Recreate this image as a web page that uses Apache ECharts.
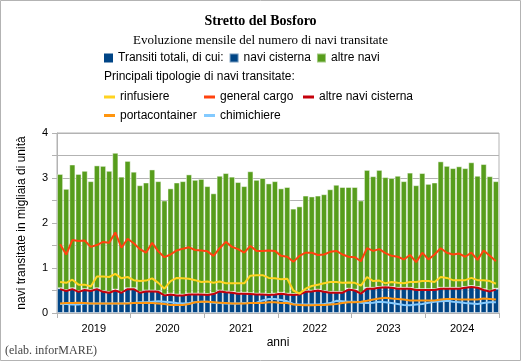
<!DOCTYPE html>
<html>
<head>
<meta charset="utf-8">
<script src="https://cdn.jsdelivr.net/npm/echarts@6/dist/echarts.min.js"></script>
<style>
html,body{margin:0;padding:0;background:#fff;}
#c{width:521px;height:361px;}
</style>
</head>
<body>
<div id="c"></div>
<script>
const years = ['2019','2020','2021','2022','2023','2024'];
const monthNames = ['01','02','03','04','05','06','07','08','09','10','11','12'];
const categories = [];
years.forEach(y => monthNames.forEach(m => categories.push(y + '-' + m)));

// totals (bar tops), thousands of ships
const totals = [
  3.09, 2.76, 3.30, 3.09, 3.16, 2.93, 3.28, 3.27, 3.16, 3.56, 3.03, 3.38,
  3.14, 2.84, 2.90, 3.19, 2.93, 2.50, 2.77, 2.90, 2.93, 3.08, 2.96, 2.98,
  2.82, 2.66, 3.05, 3.11, 3.03, 2.91, 2.82, 3.15, 2.96, 3.00, 2.88, 2.93,
  2.77, 2.80, 2.32, 2.37, 2.61, 2.59, 2.61, 2.64, 2.75, 2.85, 2.80, 2.80,
  2.80, 2.50, 3.18, 3.04, 3.18, 3.02, 3.00, 3.05, 2.93, 3.12, 2.84, 3.11,
  2.87, 2.90, 3.37, 3.27, 3.22, 3.26, 3.22, 3.35, 3.05, 3.31, 3.04, 2.93
];
const naviCisterna = [
  0.55, 0.51, 0.55, 0.49, 0.53, 0.51, 0.55, 0.49, 0.47, 0.52, 0.47, 0.55,
  0.55, 0.47, 0.50, 0.50, 0.49, 0.41, 0.43, 0.41, 0.41, 0.43, 0.43, 0.43,
  0.42, 0.44, 0.50, 0.48, 0.47, 0.45, 0.45, 0.44, 0.43, 0.43, 0.42, 0.43,
  0.45, 0.43, 0.42, 0.43, 0.49, 0.50, 0.52, 0.49, 0.47, 0.47, 0.47, 0.54,
  0.52, 0.45, 0.56, 0.56, 0.58, 0.59, 0.58, 0.56, 0.56, 0.56, 0.53, 0.53,
  0.53, 0.53, 0.56, 0.56, 0.56, 0.56, 0.58, 0.60, 0.58, 0.53, 0.50, 0.54
];
const altreNavi = totals.map((t, i) => +(t - naviCisterna[i]).toFixed(2));

const rinfusiere = [
  0.69, 0.67, 0.74, 0.63, 0.63, 0.59, 0.81, 0.81, 0.80, 0.87, 0.77, 0.80,
  0.73, 0.71, 0.72, 0.77, 0.67, 0.54, 0.71, 0.78, 0.77, 0.76, 0.73, 0.69,
  0.70, 0.67, 0.70, 0.66, 0.66, 0.66, 0.66, 0.83, 0.84, 0.84, 0.78, 0.77,
  0.75, 0.76, 0.50, 0.43, 0.54, 0.60, 0.63, 0.66, 0.69, 0.69, 0.67, 0.68,
  0.67, 0.61, 0.80, 0.71, 0.72, 0.66, 0.69, 0.67, 0.66, 0.69, 0.69, 0.71,
  0.71, 0.69, 0.80, 0.78, 0.73, 0.73, 0.73, 0.78, 0.73, 0.73, 0.71, 0.65
];
const generalCargo = [
  1.53, 1.30, 1.62, 1.60, 1.61, 1.47, 1.51, 1.58, 1.56, 1.79, 1.45, 1.65,
  1.55, 1.42, 1.34, 1.56, 1.37, 1.24, 1.30, 1.39, 1.43, 1.46, 1.40, 1.39,
  1.37, 1.27, 1.44, 1.58, 1.47, 1.42, 1.34, 1.49, 1.38, 1.38, 1.39, 1.38,
  1.27, 1.25, 1.14, 1.27, 1.34, 1.34, 1.29, 1.30, 1.36, 1.38, 1.30, 1.25,
  1.24, 1.15, 1.44, 1.38, 1.42, 1.33, 1.27, 1.25, 1.19, 1.29, 1.13, 1.34,
  1.19, 1.30, 1.44, 1.34, 1.30, 1.32, 1.25, 1.34, 1.18, 1.39, 1.27, 1.15
];
const altreNaviCisterna = [
  0.53, 0.49, 0.53, 0.47, 0.51, 0.49, 0.53, 0.47, 0.45, 0.50, 0.45, 0.53,
  0.53, 0.45, 0.48, 0.48, 0.47, 0.39, 0.41, 0.39, 0.39, 0.41, 0.41, 0.41,
  0.40, 0.42, 0.48, 0.46, 0.45, 0.43, 0.43, 0.42, 0.41, 0.41, 0.40, 0.41,
  0.43, 0.41, 0.40, 0.41, 0.47, 0.48, 0.50, 0.47, 0.45, 0.45, 0.45, 0.52,
  0.50, 0.43, 0.54, 0.54, 0.56, 0.57, 0.56, 0.54, 0.54, 0.54, 0.51, 0.51,
  0.51, 0.51, 0.54, 0.54, 0.54, 0.54, 0.56, 0.58, 0.56, 0.51, 0.48, 0.52
];
const portacontainer = [
  0.21, 0.22, 0.22, 0.23, 0.22, 0.21, 0.21, 0.21, 0.21, 0.21, 0.21, 0.21,
  0.22, 0.22, 0.23, 0.22, 0.21, 0.20, 0.18, 0.18, 0.18, 0.20, 0.24, 0.25,
  0.25, 0.24, 0.23, 0.22, 0.21, 0.21, 0.21, 0.22, 0.22, 0.22, 0.24, 0.24,
  0.22, 0.22, 0.19, 0.18, 0.17, 0.17, 0.18, 0.18, 0.19, 0.20, 0.22, 0.24,
  0.24, 0.25, 0.27, 0.30, 0.32, 0.34, 0.32, 0.31, 0.30, 0.28, 0.28, 0.28,
  0.28, 0.28, 0.30, 0.31, 0.31, 0.30, 0.30, 0.30, 0.30, 0.32, 0.31, 0.30
];
const chimichiere = [
  0.20, 0.20, 0.19, 0.19, 0.21, 0.21, 0.21, 0.21, 0.21, 0.21, 0.21, 0.22,
  0.22, 0.24, 0.24, 0.25, 0.26, 0.25, 0.24, 0.22, 0.21, 0.22, 0.24, 0.25,
  0.25, 0.23, 0.22, 0.21, 0.21, 0.21, 0.22, 0.22, 0.23, 0.28, 0.31, 0.31,
  0.29, 0.26, 0.20, 0.19, 0.19, 0.19, 0.19, 0.20, 0.22, 0.27, 0.26, 0.25,
  0.25, 0.23, 0.22, 0.23, 0.25, 0.24, 0.22, 0.20, 0.18, 0.17, 0.19, 0.20,
  0.23, 0.25, 0.26, 0.27, 0.25, 0.24, 0.22, 0.21, 0.20, 0.22, 0.24, 0.24
];

const SANS = 'Liberation Sans, Arial, sans-serif';
const SERIF = 'Liberation Serif, Times New Roman, serif';
const C = {
  blue: '#004586', green: '#579d1c', yellow: '#ffd320', gc: '#ff420e',
  red: '#c5000b', orange: '#ff950e', light: '#83caff'
};

const chart = echarts.init(document.getElementById('c'), null, {renderer: 'canvas'});

function lineSeries(name, data, color, z) {
  return {
    name, type: 'line', data, xAxisIndex: 0, yAxisIndex: 0,
    symbol: 'none', smooth: false, z,
    lineStyle: {color, width: 2},
    itemStyle: {color}
  };
}

const legendText = {fontFamily: SANS, fontSize: 12, color: '#000', lineHeight: 14};

chart.setOption({
  animation: false,
  backgroundColor: '#fff',
  title: [
    {text: 'Stretto del Bosforo', left: 'center', top: 9,
     textStyle: {fontFamily: SERIF, fontSize: 14, fontWeight: 'bold', color: '#000'}},
    {text: 'Evoluzione mensile del numero di navi transitate', left: 'center', top: 29,
     textStyle: {fontFamily: SERIF, fontSize: 13, fontWeight: 'normal', color: '#000'}}
  ],
  legend: [
    {data: ['Transiti totali, di cui:', 'navi cisterna', 'altre navi'],
     left: 104, top: 51, orient: 'horizontal', itemWidth: 9, itemHeight: 9, itemGap: 5,
     icon: 'rect', selectedMode: false, padding: 0, textStyle: legendText},
    {data: ['rinfusiere', 'portacontainer'], left: 104, top: 90, orient: 'vertical',
     itemWidth: 11, itemHeight: 3, itemGap: 4.5, icon: 'rect', selectedMode: false, padding: 0,
     textStyle: legendText},
    {data: ['general cargo', 'chimichiere'], left: 204, top: 90, orient: 'vertical',
     itemWidth: 11, itemHeight: 3, itemGap: 4.5, icon: 'rect', selectedMode: false, padding: 0,
     textStyle: legendText},
    {data: ['altre navi cisterna'], left: 303, top: 90, orient: 'vertical',
     itemWidth: 11, itemHeight: 3, itemGap: 4.5, icon: 'rect', selectedMode: false, padding: 0,
     textStyle: legendText}
  ],
  graphic: [
    {type: 'rect', shape: {x: 0.5, y: 0.5, width: 520, height: 360},
     style: {fill: 'none', stroke: '#b3b3b3', lineWidth: 1}, silent: true},
    {type: 'text', left: 104, top: 71,
     style: {text: 'Principali tipologie di navi transitate:', font: '12px ' + SANS, fill: '#000'}},
    {type: 'text', left: 5, top: 345,
     style: {text: '(elab. inforMARE)', font: '12px ' + SERIF, fill: '#444'}}
  ],
  grid: {left: 57, right: 22, top: 133, bottom: 48, show: true, borderColor: '#b3b3b3', borderWidth: 1},
  xAxis: [
    {type: 'category', data: categories, gridIndex: 0, position: 'bottom',
     axisLabel: {show: false}, axisTick: {show: false},
     axisLine: {show: true, lineStyle: {color: '#b3b3b3'}}, splitLine: {show: false},
     name: 'anni', nameLocation: 'middle', nameGap: 24,
     nameTextStyle: {fontFamily: SANS, fontSize: 12, color: '#000'}},
    {type: 'category', data: years, gridIndex: 0, position: 'bottom', boundaryGap: true,
     axisLine: {show: false},
     axisTick: {show: true, length: 5, alignWithLabel: false, lineStyle: {color: '#b3b3b3'}},
     axisLabel: {fontFamily: SANS, fontSize: 11, color: '#000', margin: 10},
     splitLine: {show: false}}
  ],
  yAxis: {
    type: 'value', min: 0, max: 4, interval: 0.5,
    axisLine: {show: true, lineStyle: {color: '#b3b3b3'}},
    axisTick: {show: true, length: 5, lineStyle: {color: '#b3b3b3'}},
    axisLabel: {fontFamily: SANS, fontSize: 11, color: '#000', margin: 9,
      formatter: v => (Math.abs(v - Math.round(v)) < 1e-9 ? String(Math.round(v)) : '')},
    splitLine: {show: true, lineStyle: {color: '#b3b3b3', width: 1}},
    name: 'navi transitate in migliaia di unità', nameLocation: 'middle', nameGap: 29,
    nameTextStyle: {fontFamily: SANS, fontSize: 12, color: '#000'}
  },
  series: [
    {name: 'Transiti totali, di cui:', type: 'line', data: [],
     symbol: 'none', itemStyle: {color: C.blue}, lineStyle: {color: C.blue}},
    {name: 'navi cisterna', type: 'bar', stack: 'tot', data: naviCisterna,
     barCategoryGap: '0%', z: 2,
     itemStyle: {color: C.blue, borderColor: 'rgba(255,255,255,0.45)', borderWidth: 1}},
    {name: 'altre navi', type: 'bar', stack: 'tot', data: altreNavi,
     barCategoryGap: '0%', z: 2,
     itemStyle: {color: C.green, borderColor: 'rgba(255,255,255,0.45)', borderWidth: 1}},
    lineSeries('chimichiere', chimichiere, C.light, 5),
    lineSeries('portacontainer', portacontainer, C.orange, 6),
    lineSeries('altre navi cisterna', altreNaviCisterna, C.red, 7),
    lineSeries('rinfusiere', rinfusiere, C.yellow, 8),
    lineSeries('general cargo', generalCargo, C.gc, 9)
  ]
});
</script>
</body>
</html>
